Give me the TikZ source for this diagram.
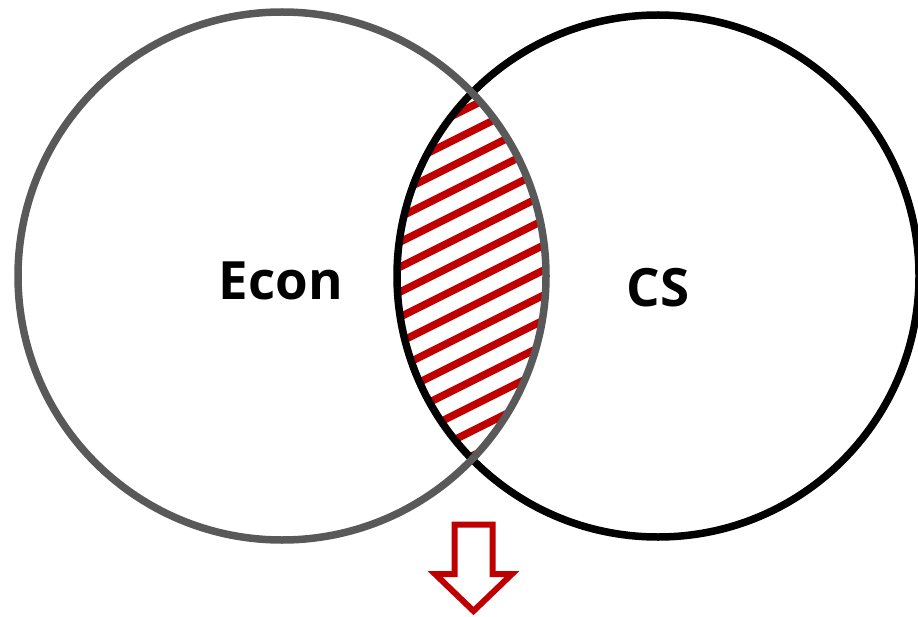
\documentclass[tikz,border=0pt]{standalone}
\usepackage{fontspec}
\setmainfont{Open Sans}
\definecolor{hatchred}{HTML}{C00000}
\definecolor{circgray}{HTML}{595959}
\begin{document}
\begin{tikzpicture}[x=1bp,y=-1bp,
  circ/.style={line width=7.5bp},
  lbl/.style={font=\bfseries\fontsize{53}{60}\selectfont, inner sep=0pt},
  stripe/.style={hatchred, line width=7.5bp},
  arrowbox/.style={hatchred, line width=6bp, fill=white, line join=miter}]
\useasboundingbox (0,0) rectangle (918,617);
\coordinate (L) at (282,276);
\coordinate (R) at (658,276);
% hatching in the lens
\begin{scope}
  \clip (L) circle[radius=264];
  \clip (R) circle[radius=261];
  \foreach \k in {-9,...,9}{
    \draw[stripe] (380,{292+25*\k+10}) -- (560,{292+25*\k-80});
  }
\end{scope}
\draw[circ, black] (R) circle[radius=261];
\draw[circ, circgray] (L) circle[radius=264];
\node[lbl] (econ) at (281,281) {Econ};
\node[lbl] (cs) at (658,288) {CS};
\draw[arrowbox] (454.5,524.5) -- (492.5,524.5) -- (492.5,574) -- (512,574)
  -- (473.5,611) -- (435,574) -- (454.5,574) -- cycle;
\end{tikzpicture}
\end{document}
